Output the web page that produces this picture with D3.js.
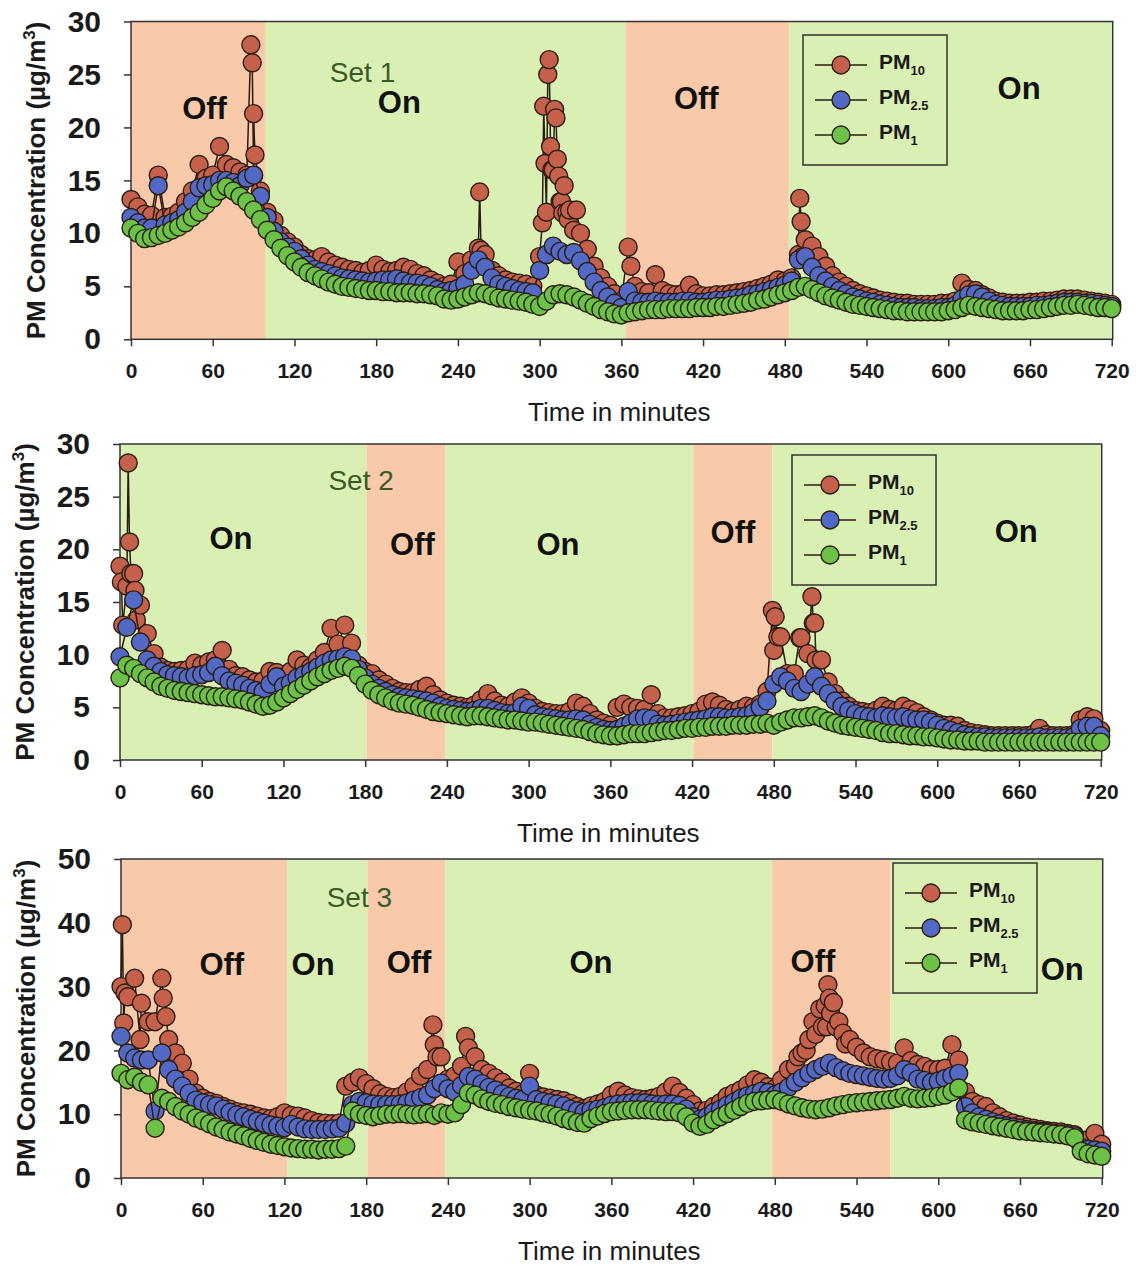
<!DOCTYPE html>
<html>
<head>
<meta charset="utf-8">
<script src="https://cdn.jsdelivr.net/npm/d3@7"></script>
<style>
body { margin: 0; background: #fff; }
svg text { font-family: "Liberation Sans", Arial, Helvetica, sans-serif; }
</style>
</head>
<body>
<div id="chart"></div>
<script>
// Sampling times (minutes), shared by the three sets
var minutes = [
    0, 5, 10, 15, 20, 25, 30, 35, 40, 45, 50, 55,
    60, 65, 70, 75, 80, 85, 90, 95, 100, 105, 110, 115,
    120, 125, 130, 135, 140, 145, 150, 155, 160, 165, 170, 175,
    180, 185, 190, 195, 200, 205, 210, 215, 220, 225, 230, 235,
    240, 245, 250, 255, 260, 265, 270, 275, 280, 285, 290, 295,
    300, 305, 310, 315, 320, 325, 330, 335, 340, 345, 350, 355,
    360, 365, 370, 375, 380, 385, 390, 395, 400, 405, 410, 415,
    420, 425, 430, 435, 440, 445, 450, 455, 460, 465, 470, 475,
    480, 485, 490, 495, 500, 505, 510, 515, 520, 525, 530, 535,
    540, 545, 550, 555, 560, 565, 570, 575, 580, 585, 590, 595,
    600, 605, 610, 615, 620, 625, 630, 635, 640, 645, 650, 655,
    660, 665, 670, 675, 680, 685, 690, 695, 700, 705, 710, 715,
    720
];

var xTicks = [0, 60, 120, 180, 240, 300, 360, 420, 480, 540, 600, 660, 720];
var yTicks30 = [0, 5, 10, 15, 20, 25, 30];
var yTicks50 = [0, 10, 20, 30, 40, 50];

// ---------- Set 1 ----------
var pm10Set1 = [
    13.2, 12.5, 11.8, 11.7, 15.5, 11.5, 11.6, 12.0, 13.0, 14.0, 16.5, 15.2,
    15.5, 18.2, 16.5, 16.2, 15.8, 15.5, 15.5, 14.0, 12.0, 11.2, 9.8, 9.2,
    8.7, 8.0, 7.6, 7.5, 7.8, 7.3, 7.0, 6.8, 6.6, 6.5, 6.3, 6.5,
    7.0, 6.6, 6.4, 6.5, 6.8, 6.6, 6.2, 6.0, 5.6, 5.3, 5.0, 5.2,
    7.3, 6.2, 7.5, 8.6, 8.0, 6.5, 6.0, 5.6, 5.4, 5.3, 5.2, 5.0,
    7.8, 12.0, 16.0, 13.0, 12.0, 10.3, 10.0, 8.5, 6.9, 5.8, 5.0, 4.3,
    3.6, 8.7, 5.0, 4.5, 4.4, 6.1, 4.6, 4.3, 4.2, 4.3, 5.1, 4.3,
    4.1, 4.1, 4.2, 4.2, 4.3, 4.4, 4.5, 4.6, 4.8, 5.0, 5.2, 5.6,
    5.5, 5.8, 8.0, 9.4, 8.8, 7.8, 6.9, 6.0, 5.4, 5.0, 4.6, 4.3,
    4.1, 3.9, 3.7, 3.6, 3.5, 3.4, 3.4, 3.3, 3.3, 3.3, 3.3, 3.4,
    3.4, 3.6, 5.3, 4.7, 4.6, 4.2, 3.9, 3.6, 3.5, 3.4, 3.4, 3.4,
    3.5, 3.5, 3.6, 3.6, 3.7, 3.8, 3.8, 3.8, 3.7, 3.6, 3.5, 3.4,
    3.3
];
var pm25Set1 = [
    11.5, 11.0, 10.5, 10.5, 14.5, 10.8, 11.0, 11.3, 12.0, 13.0, 14.3, 14.5,
    14.6, 15.0, 15.0, 14.8, 14.5, 15.2, 15.5, 13.5, 11.5, 10.2, 9.2, 8.7,
    8.3, 7.6, 7.0, 6.6, 6.4, 6.2, 6.0, 5.8, 5.7, 5.6, 5.5, 5.4,
    5.5, 5.6, 5.6, 5.7, 5.5, 5.3, 5.3, 5.2, 5.0, 4.7, 4.5, 4.6,
    4.8, 5.2, 6.5, 7.5, 6.8, 5.8, 5.2, 5.0, 4.8, 4.6, 4.5, 4.4,
    6.5, 8.0, 8.8, 8.3, 8.0, 8.2, 7.4, 6.4, 5.4, 4.6, 4.0, 3.4,
    3.0, 4.5, 3.6, 3.5, 3.5, 3.6, 3.5, 3.5, 3.5, 3.6, 3.6, 3.5,
    3.5, 3.6, 3.7, 3.7, 3.8, 3.9, 4.0, 4.2, 4.3, 4.5, 4.7, 4.9,
    5.1, 5.5, 7.5, 7.8, 6.8, 6.0, 5.5, 5.0, 4.6, 4.3, 4.0, 3.8,
    3.6, 3.5, 3.3, 3.2, 3.1, 3.0, 3.0, 3.0, 2.9, 2.9, 2.9, 3.0,
    3.0, 3.2, 3.8, 4.2, 4.3, 4.0, 3.6, 3.3, 3.2, 3.1, 3.1, 3.1,
    3.1, 3.2, 3.2, 3.3, 3.4, 3.5, 3.5, 3.5, 3.4, 3.4, 3.3, 3.2,
    3.1
];
var pm1Set1 = [
    10.5, 10.0, 9.5, 9.6, 9.8, 10.0, 10.3, 10.6, 11.0, 11.5, 12.0, 12.7,
    13.3, 14.0, 14.4, 14.0, 13.5, 13.0, 12.2, 11.3, 10.3, 9.4, 8.6, 7.9,
    7.3, 6.8, 6.3, 6.0, 5.7, 5.4, 5.2, 5.0, 4.9, 4.8, 4.7, 4.6,
    4.6, 4.5, 4.5, 4.4, 4.4, 4.4, 4.3, 4.3, 4.2, 4.1, 3.8, 3.7,
    3.8, 4.0, 4.2, 4.4, 4.3, 4.1, 3.9, 3.8, 3.7, 3.6, 3.5, 3.3,
    3.1, 3.6, 4.2, 4.3, 4.2, 4.0, 3.7, 3.4, 3.1, 2.8, 2.6, 2.4,
    2.3, 2.5, 2.6, 2.7, 2.8, 2.8, 2.8, 2.9, 2.9, 2.9, 2.9, 3.0,
    3.0, 3.0, 3.1, 3.1, 3.2, 3.3, 3.4, 3.5, 3.7, 3.8, 4.0, 4.2,
    4.4, 4.6, 4.9, 5.0, 4.7, 4.4, 4.1, 3.9, 3.7, 3.5, 3.3, 3.2,
    3.1, 3.0, 2.9, 2.8, 2.7, 2.7, 2.6, 2.6, 2.6, 2.6, 2.6, 2.6,
    2.7, 2.8, 3.0, 3.2, 3.1, 3.0, 2.9, 2.8, 2.7, 2.7, 2.7, 2.7,
    2.8, 2.8, 2.9, 3.0, 3.1, 3.2, 3.2, 3.3, 3.2, 3.1, 3.0, 3.0,
    2.9
];
// extra PM10 readings inside the short bursts
var burstMin1 = [88, 89, 90, 91, 256, 257, 302, 303, 304, 306, 307, 308, 309, 311, 312, 313, 314, 316, 317, 318, 321, 322, 327, 367, 491, 492, 493];
var burstPm10Set1 = [27.8, 26.1, 21.3, 17.4, 13.9, 8.4, 11.0, 22.0, 16.6, 25.0, 26.4, 18.2, 16.0, 21.7, 20.9, 17.0, 15.4, 13.0, 11.9, 14.5, 11.3, 12.2, 12.2, 6.9, 13.3, 11.1, 7.8];
var phaseStart1 = [0, 99, 363, 483];
var phaseEnd1 = [99, 363, 483, 720];
var phaseState1 = ["Off", "On", "Off", "On"];

// ---------- Set 2 ----------
var pm10Set2 = [
    18.4, 16.5, 17.7, 14.7, 12.0, 10.1, 8.8, 8.5, 8.4, 8.5, 8.6, 9.2,
    9.0, 9.3, 9.5, 10.4, 8.6, 8.0, 7.9, 7.6, 7.4, 7.5, 8.4, 8.3,
    7.8, 8.4, 9.5, 9.0, 8.8, 9.5, 10.2, 12.5, 11.0, 12.8, 11.1, 9.0,
    8.4, 8.2, 7.6, 7.2, 6.8, 6.5, 6.4, 6.4, 6.7, 7.0, 6.2, 5.7,
    5.4, 5.2, 5.1, 5.0, 5.2, 5.7, 6.3, 5.6, 5.2, 5.1, 5.5, 5.9,
    5.4, 4.9, 4.6, 4.5, 4.4, 4.4, 4.6, 5.4, 5.1, 4.4, 3.8, 3.5,
    3.3, 5.0, 5.3, 5.0, 4.9, 4.8, 6.2, 4.4, 4.0, 4.0, 4.1, 4.2,
    4.4, 4.6, 5.3, 5.5, 5.2, 4.8, 4.6, 4.8, 5.1, 5.0, 5.3, 6.5,
    10.4, 11.7, 8.2, 8.2, 11.6, 10.1, 13.0, 9.5, 7.4, 6.3, 5.6, 5.1,
    4.7, 4.6, 4.5, 4.7, 5.1, 4.8, 4.7, 5.1, 4.8, 4.5, 4.1, 3.8,
    3.5, 3.3, 3.3, 3.2, 2.8, 2.6, 2.5, 2.4, 2.3, 2.3, 2.3, 2.3,
    2.3, 2.3, 2.4, 3.0, 2.4, 2.3, 2.3, 2.3, 2.4, 3.8, 4.1, 3.9,
    2.8
];
var pm25Set2 = [
    9.8, 12.6, 15.2, 11.2, 9.5, 8.9, 8.4, 8.1, 8.0, 7.9, 7.8, 8.0,
    8.1, 8.3, 8.9, 8.0, 7.5, 7.3, 7.1, 6.8, 6.6, 6.5, 7.2, 7.9,
    7.0, 7.3, 7.8, 8.1, 8.4, 8.8, 9.2, 9.5, 9.6, 9.8, 9.6, 8.6,
    7.8, 7.2, 6.8, 6.5, 6.2, 6.0, 5.9, 5.8, 5.7, 5.6, 5.4, 5.1,
    4.9, 4.8, 4.7, 4.6, 4.7, 4.9, 4.9, 4.7, 4.5, 4.4, 4.5, 5.1,
    4.9, 4.3, 4.1, 4.0, 3.9, 3.8, 3.8, 3.9, 3.8, 3.4, 3.1, 2.9,
    2.8, 2.9, 3.2, 3.5, 3.9, 4.0, 3.9, 3.4, 3.3, 3.4, 3.5, 3.6,
    3.7, 3.8, 3.9, 4.1, 4.1, 4.0, 4.0, 4.1, 4.2, 4.5, 5.0, 5.6,
    7.2, 7.9, 7.5, 6.8, 6.5, 7.2, 7.9, 7.0, 6.3, 5.6, 5.1, 4.7,
    4.4, 4.2, 4.1, 4.0, 4.2, 4.1, 4.0, 4.1, 3.9, 3.8, 3.8, 3.6,
    3.3, 3.0, 2.8, 2.6, 2.4, 2.3, 2.2, 2.2, 2.1, 2.1, 2.1, 2.1,
    2.1, 2.1, 2.1, 2.2, 2.1, 2.1, 2.1, 2.1, 2.2, 3.0, 3.2, 3.2,
    2.3
];
var pm1Set2 = [
    7.8, 9.0, 8.7, 8.2, 7.8, 7.4, 7.0, 6.8, 6.6, 6.5, 6.4, 6.3,
    6.2, 6.1, 6.0, 6.0, 5.9, 5.8, 5.7, 5.5, 5.3, 5.1, 5.2, 5.5,
    5.9, 6.3, 6.7, 7.1, 7.5, 7.9, 8.2, 8.5, 8.7, 8.9, 8.7, 8.0,
    7.2, 6.6, 6.2, 5.9, 5.6, 5.4, 5.3, 5.2, 5.0, 4.8, 4.6, 4.5,
    4.4, 4.3, 4.2, 4.1, 4.2, 4.2, 4.1, 4.0, 3.9, 3.8, 3.8, 3.7,
    3.6, 3.6, 3.5, 3.4, 3.3, 3.2, 3.1, 3.0, 2.9, 2.7, 2.5, 2.4,
    2.3, 2.3, 2.4, 2.5, 2.5, 2.5, 2.6, 2.7, 2.8, 2.8, 2.9, 3.0,
    3.0, 3.1, 3.1, 3.2, 3.2, 3.2, 3.3, 3.3, 3.3, 3.4, 3.4, 3.5,
    3.3, 3.6, 3.8, 4.0, 4.0, 4.1, 4.2, 4.0, 3.7, 3.5, 3.3, 3.2,
    3.1, 3.0, 2.9, 2.8, 2.6, 2.5, 2.5, 2.4, 2.3, 2.3, 2.2, 2.2,
    2.1, 2.0, 1.9, 1.9, 1.8, 1.8, 1.8, 1.7, 1.7, 1.7, 1.7, 1.7,
    1.7, 1.7, 1.7, 1.7, 1.7, 1.7, 1.7, 1.7, 1.7, 1.7, 1.7, 1.7,
    1.7
];
var burstMin2 = [1, 2, 6, 7, 8, 11, 12, 479, 481, 483, 499, 508, 509, 511];
var burstPm10Set2 = [16.9, 12.8, 28.2, 20.7, 17.7, 16.1, 13.3, 14.2, 13.6, 11.7, 11.6, 15.5, 13.0, 9.5];
var phaseStart2 = [0, 181, 239, 421, 479];
var phaseEnd2 = [181, 239, 421, 479, 720];
var phaseState2 = ["On", "Off", "On", "Off", "On"];

// ---------- Set 3 ----------
var pm10Set3 = [
    30.0, 28.4, 31.3, 27.4, 24.5, 24.5, 31.3, 21.7, 19.6, 18.0, 15.5, 13.3,
    12.5, 12.0, 11.7, 11.2, 10.8, 10.4, 10.2, 10.0, 9.7, 9.4, 9.3, 9.6,
    10.2, 9.8, 9.7, 9.4, 9.0, 8.7, 8.6, 8.5, 8.6, 14.4, 15.0, 15.7,
    14.8, 14.0, 13.2, 12.8, 12.6, 12.8, 13.5, 14.4, 16.0, 17.0, 20.9, 19.0,
    15.5, 16.0, 17.5, 20.4, 19.0, 17.0, 16.4, 15.7, 15.0, 14.1, 13.6, 13.2,
    16.4, 13.0, 12.7, 12.5, 12.3, 12.1, 11.7, 11.2, 10.9, 11.3, 11.6, 12.0,
    13.0, 13.6, 13.0, 12.6, 12.4, 12.3, 12.5, 12.8, 13.5, 14.4, 13.4, 12.5,
    11.5, 10.5, 10.6, 11.2, 11.8, 12.8, 13.3, 13.8, 14.6, 15.4, 15.0, 14.3,
    14.0, 15.4, 17.0, 17.5, 19.6, 21.7, 22.5, 23.7, 28.2, 23.7, 22.7, 21.7,
    20.5, 19.6, 19.0, 18.7, 18.5, 18.2, 18.0, 20.4, 18.4, 17.8, 17.5, 17.0,
    17.0, 17.2, 20.9, 18.5, 13.5, 12.0, 11.5, 11.2, 10.2, 9.6, 9.0, 8.6,
    8.3, 8.0, 7.8, 7.6, 7.4, 7.3, 7.2, 7.0, 6.8, 5.2, 6.0, 7.0,
    5.3
];
var pm25Set3 = [
    22.2, 19.6, 18.8, 18.5, 18.5, 10.5, 19.6, 17.0, 15.5, 14.4, 13.3, 12.2,
    11.8, 11.5, 11.3, 10.8, 10.3, 9.9, 9.6, 9.2, 8.9, 8.6, 8.3, 8.1,
    7.9, 8.4, 8.0, 7.7, 7.6, 7.6, 7.6, 7.7, 7.8, 8.6, 11.5, 12.0,
    11.8, 11.6, 11.5, 11.5, 11.5, 11.6, 11.8, 12.2, 12.6, 13.0, 14.0, 14.9,
    14.0, 13.5, 14.5, 15.9, 15.5, 14.8, 14.2, 13.8, 13.2, 12.8, 12.5, 12.3,
    14.4, 12.3, 12.0, 11.8, 11.6, 11.3, 10.8, 10.5, 10.3, 10.6, 10.8, 11.0,
    11.4, 11.6, 11.7, 11.8, 11.8, 11.8, 11.6, 11.5, 11.6, 11.6, 11.4, 10.8,
    9.6, 9.2, 9.6, 10.3, 10.8, 11.4, 11.9, 12.5, 12.9, 13.2, 13.6, 13.4,
    13.0, 13.5, 14.2, 15.0, 15.7, 16.4, 17.0, 17.5, 18.0, 17.3, 16.8, 16.4,
    16.2, 16.0, 15.8, 15.6, 15.5, 15.6, 16.0, 17.0, 16.5, 15.5, 15.3, 15.0,
    15.2, 15.6, 16.0, 16.4, 11.2, 10.2, 9.6, 9.2, 8.8, 8.5, 8.2, 8.0,
    7.8, 7.6, 7.4, 7.3, 7.2, 7.0, 6.9, 6.8, 6.6, 4.8, 4.5, 4.4,
    4.2
];
var pm1Set3 = [
    16.4, 15.4, 15.8, 15.0, 14.6, 7.8, 12.5, 12.0, 11.2, 10.5, 10.0, 9.4,
    9.0, 8.5, 8.0, 7.6, 7.2, 6.9, 6.6, 6.2, 5.9, 5.6, 5.3, 5.1,
    4.9, 4.7, 4.6, 4.5, 4.5, 4.4, 4.5, 4.5, 4.6, 5.0, 10.5, 10.0,
    9.8, 9.6, 9.8, 10.0, 10.0, 10.1, 10.0, 9.9, 10.0, 10.1, 9.8, 10.2,
    10.0, 10.2, 11.5, 13.3, 13.0, 12.4, 12.0, 11.7, 11.5, 11.2, 11.0, 10.8,
    10.6, 10.5, 10.2, 10.0, 9.7, 9.3, 9.0, 8.7, 8.6, 9.3, 9.7, 10.1,
    10.4, 10.5, 10.6, 10.7, 10.7, 10.7, 10.6, 10.5, 10.4, 10.4, 10.2, 9.6,
    8.6, 8.1, 8.4, 9.1, 9.6, 10.1, 10.6, 11.2, 11.7, 12.0, 12.1, 12.2,
    12.3, 12.0, 11.6, 11.3, 11.0, 10.8, 10.7, 10.8, 11.0, 11.3, 11.5, 11.7,
    11.8, 11.9, 12.0, 12.1, 12.2, 12.3, 12.5, 12.8, 12.5, 12.4, 12.5, 12.6,
    12.8, 13.0, 13.5, 14.1, 9.1, 8.8, 8.6, 8.4, 8.2, 8.0, 7.8, 7.6,
    7.4, 7.3, 7.2, 7.1, 7.0, 6.9, 6.8, 6.6, 6.3, 4.2, 3.8, 3.6,
    3.4
];
var burstMin3 = [1, 2, 3, 14, 31, 33, 229, 232, 253, 497, 503, 508, 513, 517, 518, 519, 521, 523, 527, 532];
var burstPm10Set3 = [39.7, 24.3, 29.0, 21.7, 28.2, 25.3, 24.0, 19.0, 22.2, 19.0, 20.0, 24.5, 26.5, 27.0, 23.7, 30.3, 25.8, 27.5, 24.5, 21.0];
var phaseStart3 = [0, 122, 181, 238, 478, 565];
var phaseEnd3 = [122, 181, 238, 478, 565, 720];
var phaseState3 = ["Off", "On", "Off", "On", "Off", "On"];

var seriesNames = ["PM10", "PM2.5", "PM1"];

// colours
var offColor = "#f8caa9";
var onColor = "#daefb3";
var markerColor = { "PM10": "#c5604a", "PM2.5": "#5269c6", "PM1": "#6cc246" };
var edgeColor = "#2b1d12";
var circleRadius = 9;

var svgWidth = 1136;
var svgHeight = 1266;

var svg = d3.select("#chart")
    .append("svg")
    .attr("width", svgWidth)
    .attr("height", svgHeight);

// Panel layout (pixels) and the label spots (in data units)
var panels = [
    {
        left: 131, top: 21.5, width: 980.7, height: 317.8, yMax: 30, yTicks: yTicks30,
        set: "Set 1", setAt: [170, 24.3],
        stateAt: [[54, 20.8], [197, 21.4], [415, 21.7], [652, 22.7]],
        legend: [672, 13.5],
        pm10: pm10Set1, pm25: pm25Set1, pm1: pm1Set1,
        burstMin: burstMin1, burstPm10: burstPm10Set1,
        phaseStart: phaseStart1, phaseEnd: phaseEnd1, phaseState: phaseState1
    },
    {
        left: 120, top: 444, width: 980.7, height: 316, yMax: 30, yTicks: yTicks30,
        set: "Set 2", setAt: [177, 25.6],
        stateAt: [[81.5, 20.0], [214.7, 19.5], [321.5, 19.5], [450, 20.6], [658, 20.7]],
        legend: [672, 11],
        pm10: pm10Set2, pm25: pm25Set2, pm1: pm1Set2,
        burstMin: burstMin2, burstPm10: burstPm10Set2,
        phaseStart: phaseStart2, phaseEnd: phaseEnd2, phaseState: phaseState2
    },
    {
        left: 121, top: 859, width: 980.7, height: 319, yMax: 50, yTicks: yTicks50,
        set: "Set 3", setAt: [175, 42.5],
        stateAt: [[74, 31.8], [141, 31.8], [211.5, 32.1], [345, 32.1], [508, 32.3], [691, 31]],
        legend: [772, 4],
        pm10: pm10Set3, pm25: pm25Set3, pm1: pm1Set3,
        burstMin: burstMin3, burstPm10: burstPm10Set3,
        phaseStart: phaseStart3, phaseEnd: phaseEnd3, phaseState: phaseState3
    }
];

function drawPanel(p) {
    var g = svg.append("g")
        .attr("transform", `translate(${p.left}, ${p.top})`);

    var xScale = d3.scaleLinear().domain([0, 720]).range([0, p.width]);
    var yScale = d3.scaleLinear().domain([0, p.yMax]).range([p.height, 0]);

    // Off / On shading
    var phases = p.phaseStart.map((s, i) => ({ start: s, end: p.phaseEnd[i], state: p.phaseState[i] }));
    g.selectAll("rect.phase")
        .data(phases)
        .enter()
        .append("rect")
        .attr("class", "phase")
        .attr("x", d => xScale(d.start))
        .attr("y", 0)
        .attr("width", d => xScale(d.end) - xScale(d.start))
        .attr("height", p.height)
        .attr("fill", d => d.state == "Off" ? offColor : onColor);

    // Axes
    var leftAxis = d3.axisLeft(yScale).tickValues(p.yTicks).tickSize(7).tickPadding(23).tickSizeOuter(0);
    var bottomAxis = d3.axisBottom(xScale).tickValues(xTicks).tickSize(7).tickPadding(17).tickSizeOuter(0);

    var yAxis = g.append("g").call(leftAxis);
    yAxis.selectAll("text")
        .attr("font-size", 30)
        .attr("font-weight", "bold")
        .attr("fill", "#1a1a1a");

    var xAxis = g.append("g")
        .attr("transform", `translate(0, ${p.height})`)
        .call(bottomAxis);
    xAxis.selectAll("text")
        .attr("font-size", 21)
        .attr("font-weight", "bold")
        .attr("fill", "#1a1a1a");

    [yAxis, xAxis].forEach(a => {
        a.select(".domain").remove();
        a.selectAll("line").attr("stroke", "#333").attr("stroke-width", 1.5);
    });

    // Frame
    g.append("rect")
        .attr("x", 0)
        .attr("y", 0)
        .attr("width", p.width + 1)
        .attr("height", p.height)
        .attr("fill", "none")
        .attr("stroke", "#333")
        .attr("stroke-width", 1.5);

    // Axis titles
    g.append("text")
        .attr("x", p.width / 2 - 2)
        .attr("y", p.height + 82)
        .attr("text-anchor", "middle")
        .attr("font-size", 26)
        .attr("fill", "#1a1a1a")
        .text("Time in minutes");

    var yTitle = g.append("text")
        .attr("transform", `translate(-95, ${p.height / 2}) rotate(-90)`)
        .attr("text-anchor", "middle")
        .attr("dy", "0.36em")
        .attr("font-size", 26)
        .attr("font-weight", "bold")
        .attr("fill", "#1a1a1a");
    yTitle.append("tspan").text("PM Concentration (\u00b5g/m");
    yTitle.append("tspan").attr("font-size", 17).attr("dy", -10).text("3");
    yTitle.append("tspan").attr("dy", 10).text(")");

    // Off / On labels and set name
    g.selectAll("text.state")
        .data(phases)
        .enter()
        .append("text")
        .attr("class", "state")
        .attr("x", (d, i) => xScale(p.stateAt[i][0]))
        .attr("y", (d, i) => yScale(p.stateAt[i][1]))
        .attr("text-anchor", "middle")
        .attr("font-size", 31)
        .attr("font-weight", "bold")
        .attr("fill", "#111")
        .text(d => d.state);

    g.append("text")
        .attr("x", xScale(p.setAt[0]))
        .attr("y", yScale(p.setAt[1]))
        .attr("text-anchor", "middle")
        .attr("font-size", 28)
        .attr("fill", "#3b5a2a")
        .text(p.set);

    // Series: PM10 first, PM1 on top
    var pm10Points = minutes.map((m, i) => ({ t: m, v: p.pm10[i] }))
        .concat(p.burstMin.map((m, i) => ({ t: m, v: p.burstPm10[i] })))
        .sort((a, b) => a.t - b.t);
    var pm25Points = minutes.map((m, i) => ({ t: m, v: p.pm25[i] }));
    var pm1Points = minutes.map((m, i) => ({ t: m, v: p.pm1[i] }));
    var allSeries = [pm10Points, pm25Points, pm1Points];

    var line = d3.line()
        .x(d => xScale(d.t))
        .y(d => yScale(d.v));

    allSeries.forEach((pts, k) => {
        var sg = g.append("g");
        sg.append("path")
            .datum(pts)
            .attr("d", line)
            .attr("fill", "none")
            .attr("stroke", edgeColor)
            .attr("stroke-width", 1.5);
        sg.selectAll("circle")
            .data(pts)
            .enter()
            .append("circle")
            .attr("cx", d => xScale(d.t))
            .attr("cy", d => yScale(d.v))
            .attr("r", circleRadius)
            .attr("fill", markerColor[seriesNames[k]])
            .attr("stroke", edgeColor)
            .attr("stroke-width", 1.4);
    });

    // Legend
    var legend = g.append("g")
        .attr("transform", `translate(${p.legend[0]}, ${p.legend[1]})`);
    legend.append("rect")
        .attr("width", 144)
        .attr("height", 130)
        .attr("fill", "none")
        .attr("stroke", "#333")
        .attr("stroke-width", 1.5);

    var subs = ["10", "2.5", "1"];
    seriesNames.forEach((name, i) => {
        var rowY = 30 + i * 35;
        legend.append("line")
            .attr("x1", 12).attr("x2", 64)
            .attr("y1", rowY).attr("y2", rowY)
            .attr("stroke", edgeColor)
            .attr("stroke-width", 1.5);
        legend.append("circle")
            .attr("cx", 38).attr("cy", rowY)
            .attr("r", circleRadius)
            .attr("fill", markerColor[name])
            .attr("stroke", edgeColor)
            .attr("stroke-width", 1.4);
        var lt = legend.append("text")
            .attr("x", 76)
            .attr("y", rowY + 4)
            .attr("font-size", 21)
            .attr("font-weight", "bold")
            .attr("fill", "#1a1a1a");
        lt.append("tspan").text("PM");
        lt.append("tspan").attr("font-size", 13).attr("dy", 6).text(subs[i]);
    });
}

panels.forEach(p => drawPanel(p));
</script>
</body>
</html>
